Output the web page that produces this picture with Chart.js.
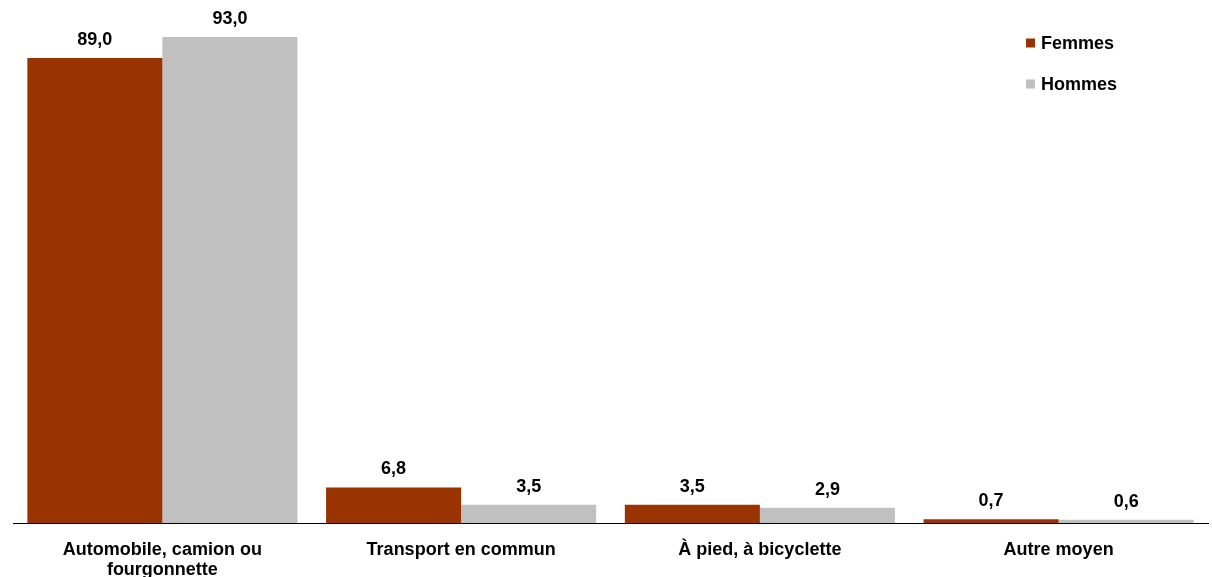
<!DOCTYPE html>
<html><head><meta charset="utf-8">
<script src="https://cdn.jsdelivr.net/npm/chart.js@4/dist/chart.umd.min.js"></script>
<style>html,body{margin:0;padding:0;background:#fff}#wrap{width:1212px;height:577px}</style>
</head><body><div id="wrap"><canvas id="c"></canvas></div>
<script>
const categories = [["Automobile, camion ou","fourgonnette"],"Transport en commun","À pied, à bicyclette","Autre moyen"];
const femmes = [89.0, 6.8, 3.5, 0.7];
const hommes = [93.0, 3.5, 2.9, 0.6];
const seriesNames = ["Femmes","Hommes"];
const FONT = '"Liberation Sans", Arial, sans-serif';

const valueLabels = {
  id:'valueLabels',
  afterDatasetsDraw(chart){
    const ctx = chart.ctx;
    ctx.save();
    ctx.font = 'bold 18px ' + FONT;
    ctx.fillStyle = '#000';
    ctx.textAlign = 'center';
    ctx.textBaseline = 'alphabetic';
    chart.data.datasets.forEach((ds,i)=>{
      chart.getDatasetMeta(i).data.forEach((bar,j)=>{
        ctx.fillText(ds.data[j].toFixed(1).replace('.',','), bar.x, bar.y - 13);
      });
    });
    ctx.restore();
  }
};
const customLegend = {
  id:'customLegend',
  afterDraw(chart){
    const ctx = chart.ctx;
    ctx.save();
    ctx.font = 'bold 18px ' + FONT;
    ctx.textBaseline = 'middle';
    ctx.textAlign = 'left';
    chart.data.datasets.forEach((ds,i)=>{
      const y = 43 + i*41;
      ctx.fillStyle = ds.backgroundColor;
      ctx.fillRect(1026, y-4.5, 9, 9);
      ctx.fillStyle = '#000';
      ctx.fillText(ds.label, 1041, y+1);
    });
    ctx.restore();
  }
};

new Chart(document.getElementById('c'), {
  type:'bar',
  data:{
    labels: categories,
    datasets:[
      {label: seriesNames[0], data: femmes, backgroundColor:'#993300'},
      {label: seriesNames[1], data: hommes, backgroundColor:'#C0C0C0'}
    ]
  },
  options:{
    responsive:true, maintainAspectRatio:false, animation:false,
    layout:{padding:{left:13,right:4,top:0,bottom:0}},
    datasets:{bar:{categoryPercentage:0.904, barPercentage:1}},
    plugins:{legend:{display:false}, tooltip:{enabled:false}},
    scales:{
      x:{
        grid:{display:false},
        border:{display:true,color:'#000',width:1},
        ticks:{color:'#000', font:{family:FONT, size:18, weight:'bold', lineHeight:1.1}, padding:9, maxRotation:0, autoSkip:false},
        afterFit(s){ s.height = 54; }
      },
      y:{display:false, min:0, max:100.08}
    }
  },
  plugins:[valueLabels, customLegend]
});
</script></body></html>
